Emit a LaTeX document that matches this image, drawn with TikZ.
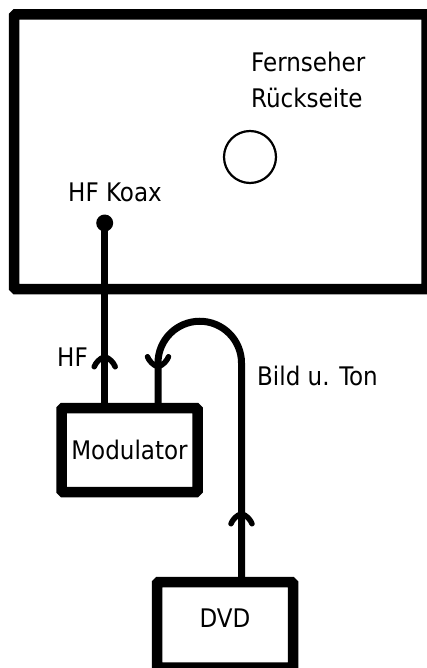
\documentclass[tikz,border=0pt]{standalone}
\usepackage{fontspec}
\setmainfont{DejaVu Sans Condensed}
\usetikzlibrary{decorations.markings,backgrounds}
\newcommand\wirechev{\draw[line width=5.5pt, line cap=round, line join=round]
    (-10pt,-10.5pt) .. controls (-6pt,-9pt) and (-1.5pt,-5pt) .. (0pt,0pt)
    .. controls (-1.5pt,5pt) and (-6pt,9pt) .. (-10pt,10.5pt);}
\begin{document}
\begin{tikzpicture}[x=1pt,y=-1pt,
  every node/.style={font=\fontsize{25.6}{36}\selectfont, inner sep=0pt},
  box/.style={draw, line width=10.5pt, rounded corners=1.5pt},
  wire/.style={line width=7pt},
  lbl/.style={anchor=base west}]
\useasboundingbox (0,0) rectangle (426,668);
% boxes
\node[box, minimum width=412.5pt, minimum height=274.5pt] (tv) at (220.25,151.75) {};
\node[box, fill=white, minimum width=136pt, minimum height=84pt] (mod) at (129.5,450) {Modulator};
\node[box, fill=white, minimum width=136pt, minimum height=85.5pt, text depth=13pt] (dvd) at (225,624.75) {DVD};
% parts of the TV
\node[draw, circle, line width=2.2pt, minimum size=52pt] (scart) at (250,157) {};
\coordinate (koax) at (104.7,223);
\coordinate (hfx) at (104.7,0);
\coordinate (bx) at (241.5,0);
\coordinate (ax) at (158,0);
% texts
\node[lbl, align=left] (tvlbl) at (251,108) {Fernseher\\Rückseite};
\node[lbl] (koaxlbl) at (68,202) {HF Koax};
\node[lbl] (hflbl) at (57,366) {HF};
\node[lbl] (bildlbl) at (257,385) {Bild u. Ton};
% wires
\begin{scope}[on background layer]
\draw[wire, postaction={decorate}, decoration={markings, mark=at position 46pt with {\wirechev}}]
  (mod.north -| hfx) -- (koax);
\draw[wire, postaction={decorate}, decoration={markings,
    mark=at position 63pt with {\wirechev},
    mark=at position -36pt with {\wirechev}}]
  (dvd.north -| bx) -- (241.5,363) arc[start angle=0, end angle=-180, radius=41.75] -- (mod.north -| ax);
\end{scope}
\fill (koax) circle[radius=8.5];
\end{tikzpicture}
\end{document}
